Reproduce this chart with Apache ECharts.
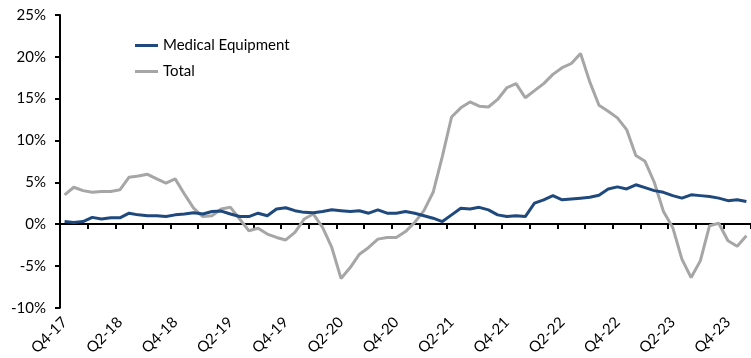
<!DOCTYPE html>
<html>
<head>
<meta charset="utf-8">
<script src="https://cdn.jsdelivr.net/npm/echarts@6/dist/echarts.min.js"></script>
<style>html,body{margin:0;padding:0;background:#fff;}#c{width:751px;height:358px;}</style>
</head>
<body>
<div id="c"></div>
<script>
var categories = [
  'Q4-17','Q4-17','Q4-17',
  'Q1-18','Q1-18','Q1-18','Q2-18','Q2-18','Q2-18','Q3-18','Q3-18','Q3-18','Q4-18','Q4-18','Q4-18',
  'Q1-19','Q1-19','Q1-19','Q2-19','Q2-19','Q2-19','Q3-19','Q3-19','Q3-19','Q4-19','Q4-19','Q4-19',
  'Q1-20','Q1-20','Q1-20','Q2-20','Q2-20','Q2-20','Q3-20','Q3-20','Q3-20','Q4-20','Q4-20','Q4-20',
  'Q1-21','Q1-21','Q1-21','Q2-21','Q2-21','Q2-21','Q3-21','Q3-21','Q3-21','Q4-21','Q4-21','Q4-21',
  'Q1-22','Q1-22','Q1-22','Q2-22','Q2-22','Q2-22','Q3-22','Q3-22','Q3-22','Q4-22','Q4-22','Q4-22',
  'Q1-23','Q1-23','Q1-23','Q2-23','Q2-23','Q2-23','Q3-23','Q3-23','Q3-23','Q4-23','Q4-23','Q4-23'
];
var medicalEquipment = [
  0.3,0.2,0.3,0.8,0.6,0.75,0.75,1.3,1.1,1.0,1.0,0.9,1.1,1.2,1.35,1.2,1.5,1.55,1.2,0.9,
  0.9,1.3,1.0,1.8,1.95,1.6,1.4,1.35,1.5,1.7,1.6,1.5,1.6,1.3,1.7,1.3,1.3,1.5,1.3,1.0,
  0.7,0.3,1.1,1.9,1.8,2.0,1.7,1.1,0.9,1.0,0.9,2.5,2.9,3.4,2.9,3.0,3.1,3.2,3.45,4.2,
  4.45,4.2,4.7,4.35,4.0,3.8,3.4,3.1,3.5,3.4,3.3,3.1,2.8,2.9,2.7
];
var total = [
  3.5,4.4,4.0,3.8,3.9,3.9,4.1,5.6,5.75,5.95,5.4,4.9,5.4,3.6,1.9,0.9,1.0,1.8,2.0,0.6,
  -0.8,-0.5,-1.2,-1.6,-1.9,-1.0,0.6,1.2,-0.4,-2.8,-6.5,-5.2,-3.6,-2.8,-1.8,-1.6,-1.6,-0.9,0.2,1.6,
  3.8,8.1,12.8,13.9,14.6,14.1,14.0,14.9,16.3,16.8,15.1,15.95,16.8,17.9,18.7,19.2,20.4,17.0,14.2,13.5,
  12.7,11.3,8.2,7.5,5.0,1.5,-0.4,-4.2,-6.4,-4.4,-0.2,0.1,-2.0,-2.65,-1.4
];
var seriesNames = ['Medical Equipment', 'Total'];

var chart = echarts.init(document.getElementById('c'));
var font = 'Lato, "Open Sans", sans-serif';
chart.setOption({
  animation: false,
  textStyle: {fontFamily: font},
  legend: {
    orient: 'vertical', left: 130, top: 33, itemGap: 11,
    itemWidth: 23, itemHeight: 3, icon: 'rect',
    textStyle: {fontSize: 15, color: '#000', fontFamily: font},
    data: seriesNames
  },
  grid: {left: 60, top: 15, bottom: 49, width: 695},
  xAxis: [{
    type: 'category', data: categories, boundaryGap: true, position: 'bottom',
    axisLine: {show: false, onZero: false},
    axisTick: {show: false},
    axisLabel: {interval: 5, rotate: 45, fontSize: 15, color: '#000', margin: 12, fontFamily: font}
  }, {
    type: 'category', data: categories, boundaryGap: true, position: 'bottom',
    axisLine: {show: true, onZero: true, lineStyle: {color: '#000', width: 2}},
    axisTick: {show: true, interval: 2, length: 5, inside: false, lineStyle: {color: '#000', width: 2}},
    axisLabel: {show: false}
  }],
  yAxis: {
    type: 'value', min: -10, max: 25, interval: 5,
    splitLine: {show: false},
    axisLine: {show: true, lineStyle: {color: '#000', width: 2}},
    axisTick: {show: true, length: 5, lineStyle: {color: '#000', width: 2}},
    axisLabel: {formatter: '{value}%', fontSize: 15, color: '#000', margin: 14, fontFamily: font}
  },
  series: [{
    name: seriesNames[0], type: 'line', data: medicalEquipment, showSymbol: false, symbol: 'none',
    lineStyle: {color: '#1F497D', width: 3}, itemStyle: {color: '#1F497D'}, z: 3
  }, {
    name: seriesNames[1], type: 'line', data: total, showSymbol: false, symbol: 'none',
    lineStyle: {color: '#A6A6A6', width: 3}, itemStyle: {color: '#A6A6A6'}, z: 2
  }]
});
</script>
</body>
</html>
